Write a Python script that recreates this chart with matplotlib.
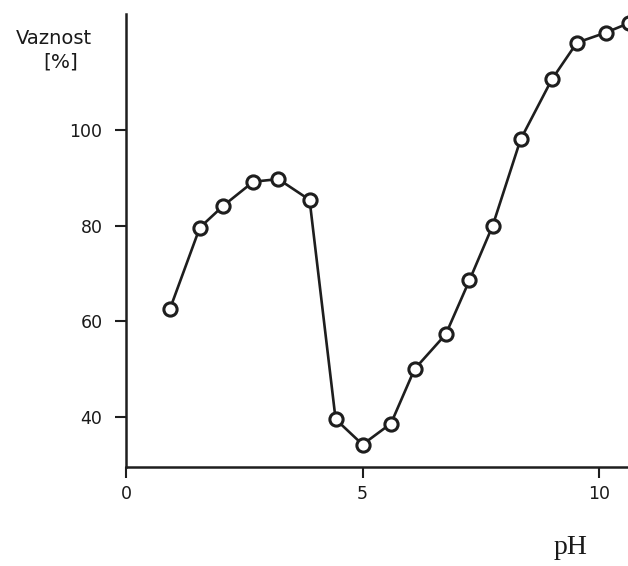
import matplotlib
matplotlib.use("Agg")
import matplotlib.pyplot as plt

ph = [0.93, 1.56, 2.06, 2.69, 3.22, 3.88, 4.43, 5.0, 5.6, 6.1, 6.76, 7.26,
      7.75, 8.34, 9.0, 9.53, 10.14, 10.63]
vaznost = [62.6, 79.6, 84.2, 89.2, 89.75, 85.4, 39.5, 34.2, 38.6, 50.0, 57.3, 68.6,
           80.0, 98.05, 110.6, 118.3, 120.4, 122.4]
xticks = [0, 5, 10]
yticks = [40, 60, 80, 100]

plt.rcParams['font.family'] = ['DejaVu Sans']
fig = plt.figure(figsize=(6.28, 5.66), dpi=100)
ax = fig.add_axes([126/628, 1 - 467/566, (628 - 126)/628, (467 - 14)/566])
col = '#1e1e1e'
ax.plot(ph, vaznost, '-', color=col, lw=1.9, marker='o', ms=9.5,
        mfc='white', mec=col, mew=2.2, clip_on=True)
ax.set_xlim(0, 10.61)
ax.set_ylim(29.5, 124.3)
for s in ['top', 'right']:
    ax.spines[s].set_visible(False)
for s in ['left', 'bottom']:
    ax.spines[s].set_color(col)
    ax.spines[s].set_linewidth(1.8)
ax.set_xticks(xticks)
ax.set_yticks(yticks)
ax.tick_params(axis='both', colors=col, labelcolor='#1a1a1a', labelsize=12.5,
               width=1.5)
ax.tick_params(axis='y', length=8, pad=9)
ax.tick_params(axis='x', length=8, pad=5)
fig.text(54/628, 1 - 38/566, 'Vaznost', ha='center', va='center', fontsize=14,
         color='#1a1a1a')
fig.text(61/628, 1 - 62/566, '[%]', ha='center', va='center', fontsize=14.5,
         color='#1a1a1a')
fig.text(571/628, 1 - 548/566, 'pH', ha='center', va='center', fontsize=20,
         family=['Liberation Serif', 'DejaVu Serif'], color='#1a1a1a')
fig.savefig('out.png', dpi=100)
